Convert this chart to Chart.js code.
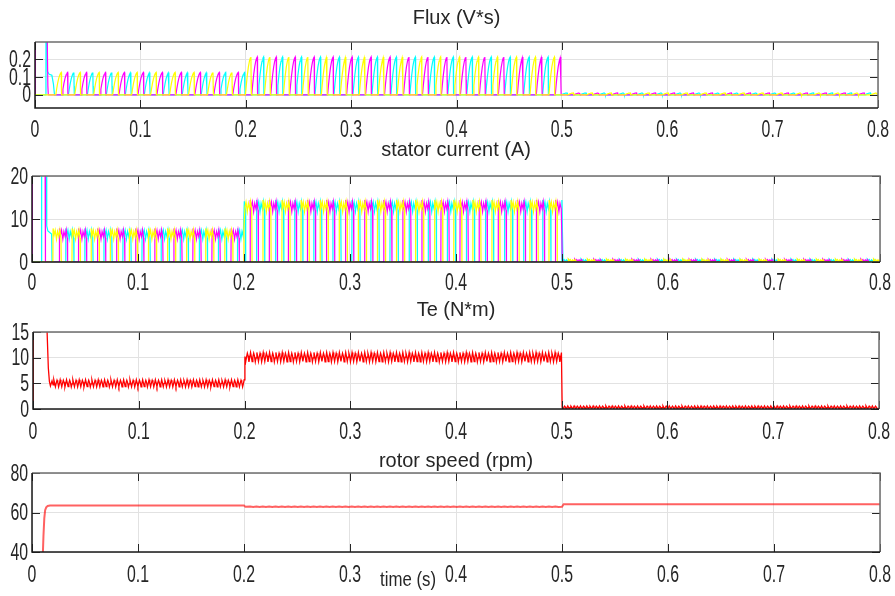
<!DOCTYPE html>
<html>
<head>
<meta charset="utf-8">
<script src="https://cdn.jsdelivr.net/npm/chart.js@4.4.1/dist/chart.umd.min.js"></script>
<style>
  html, body { margin: 0; padding: 0; background: #fff; }
  #wrap { position: relative; width: 895px; height: 596px; overflow: hidden; }
  #wrap canvas { position: absolute; left: 0; top: 0; }
</style>
</head>
<body>
<div id="wrap">
  <canvas id="fluxChart" width="895" height="596"></canvas>
  <canvas id="currentChart" width="895" height="596"></canvas>
  <canvas id="torqueChart" width="895" height="596"></canvas>
  <canvas id="speedChart" width="895" height="596"></canvas>
</div>
<script>
// time axis (s)
const xTickValues = [0, 0.1, 0.2, 0.3, 0.4, 0.5, 0.6, 0.7, 0.8];
const xTickLabels = ['0', '0.1', '0.2', '0.3', '0.4', '0.5', '0.6', '0.7', '0.8'];

// load steps at 0.2 s and 0.5 s split the run into three parts
const segmentEnds = [0.2, 0.5];

// start of each phase conduction (s)
const yellowStarts = [0.0197, 0.0377, 0.0557, 0.0737, 0.0917, 0.1097, 0.1277, 0.1457, 0.1637, 0.1817,
  0.1997, 0.2177, 0.2357, 0.2537, 0.2717, 0.2897, 0.3077, 0.3257, 0.3437, 0.3617, 0.3797, 0.3977,
  0.4157, 0.4337, 0.4517, 0.4697, 0.4877, 0.5057, 0.5237, 0.5417, 0.5597, 0.5777, 0.5957, 0.6137,
  0.6317, 0.6497, 0.6677, 0.6857, 0.7037, 0.7217, 0.7397, 0.7577, 0.7757, 0.7937];
const magentaStarts = [0.0257, 0.0437, 0.0617, 0.0797, 0.0977, 0.1157, 0.1337, 0.1517, 0.1697, 0.1877,
  0.2057, 0.2237, 0.2417, 0.2597, 0.2777, 0.2957, 0.3137, 0.3317, 0.3497, 0.3677, 0.3857, 0.4037,
  0.4217, 0.4397, 0.4577, 0.4757, 0.4937, 0.5117, 0.5297, 0.5477, 0.5657, 0.5837, 0.6017, 0.6197,
  0.6377, 0.6557, 0.6737, 0.6917, 0.7097, 0.7277, 0.7457, 0.7637, 0.7817];
const cyanStarts = [0.0317, 0.0497, 0.0677, 0.0857, 0.1037, 0.1217, 0.1397, 0.1577, 0.1757, 0.1937,
  0.2117, 0.2297, 0.2477, 0.2657, 0.2837, 0.3017, 0.3197, 0.3377, 0.3557, 0.3737, 0.3917, 0.4097,
  0.4277, 0.4457, 0.4637, 0.4817, 0.4997, 0.5177, 0.5357, 0.5537, 0.5717, 0.5897, 0.6077, 0.6257,
  0.6437, 0.6617, 0.6797, 0.6977, 0.7157, 0.7337, 0.7517, 0.7697, 0.7877];

// flux: one pulse as [s after start, fraction of peak], peak per part (V*s)
const fluxPulse = [[0, 0], [0.0008, 0.25], [0.0018, 0.52], [0.0028, 0.74], [0.0038, 0.89],
  [0.0046, 0.97], [0.0052, 1], [0.0054, 0.4], [0.0056, 0]];
const fluxPeak = [0.125, 0.212, 0.01];
const fluxStartYellow = [[0, 0]];
const fluxStartMagenta = [[0, 0], [0.0004, 0.5], [0.0112, 0.5], [0.0122, 0.05], [0.0126, 0]];
const fluxStartCyan = [[0, 0], [0.0098, 0], [0.0104, 0.5], [0.0112, 0.5], [0.0118, 0.13],
  [0.0135, 0.115], [0.016, 0.11], [0.0175, 0.06], [0.0185, 0]];

// stator current: chopped pulse as [s after start, ripple (A)], level per part (A)
const currentPulse = [[0.0002, 1.3], [0.0012, -0.2], [0.0022, 0.9], [0.0034, -1.2], [0.0044, 0.6],
  [0.0056, -0.6], [0.0066, 1.0], [0.0076, -0.9]];
const currentPulseEnd = 0.0079;
const currentLevel = [6.5, 13.0, 0.35];
const currentSwing = [1.0, 1.1, 0.25];
const currentStartYellow = [[0, 0]];
const currentStartMagenta = [[0, 0], [0.0003, 25], [0.0123, 25], [0.0127, 0]];
const currentStartCyan = [[0, 0], [0.0088, 0], [0.0091, 25], [0.0133, 25], [0.0139, 8.4],
  [0.015, 7.2], [0.017, 6.8], [0.0185, 6.5], [0.0189, 0]];

// torque: ripple over one stroke as [s after start, N*m], mean per part
const tePulse = [[0, 0.7], [0.0007, 0.1], [0.0015, -0.65], [0.0022, 0.0], [0.003, 0.6],
  [0.0037, 0.2], [0.0045, -0.7], [0.0052, -0.1]];
const teLevel = [5.0, 10.1, 0.3];
const teSwing = [1.0, 1.3, 0.45];
const teStart = [[0, 0], [0.0002, 20], [0.0125, 20], [0.0145, 8], [0.0155, 5.4], [0.0165, 4.5],
  [0.018, 5.5], [0.019, 4.7]];

// rotor speed (rpm)
const speedTime = [0.0100, 0.0108, 0.0116, 0.0124, 0.0134, 0.0148, 0.0170, 0.2000, 0.2012, 0.5000, 0.5015, 0.8000];
const speedValue = [35, 48, 57, 61.2, 62.6, 63.3, 63.5, 63.5, 62.9, 62.9, 64.2, 64.2];
const speedRipple = [[0, 0.15], [0.003, -0.15]];
const speedLoaded = 62.9;

const FONT = '"Liberation Sans", Arial, Helvetica, sans-serif';
const INK = '#262626';

function segmentAt(t) {
  return t < segmentEnds[0] ? 0 : (t < segmentEnds[1] ? 1 : 2);
}

function fluxSeries(startup, starts) {
  const pts = startup.map(([x, y]) => ({ x, y }));
  starts.forEach(t0 => {
    fluxPulse.forEach(([dt, f]) => {
      const t = t0 + dt;
      pts.push({ x: t, y: f * fluxPeak[segmentAt(t)] });
    });
  });
  return pts;
}

function currentSeries(startup, starts) {
  const pts = startup.map(([x, y]) => ({ x, y }));
  starts.forEach(t0 => {
    pts.push({ x: t0, y: 0 });
    currentPulse.forEach(([dt, off]) => {
      const t = t0 + dt;
      const s = segmentAt(t);
      pts.push({ x: t, y: currentLevel[s] + off * currentSwing[s] });
    });
    pts.push({ x: t0 + currentPulseEnd, y: 0 });
  });
  return pts;
}

const allStarts = [...yellowStarts, ...magentaStarts, ...cyanStarts].sort((a, b) => a - b);

const teData = teStart.map(([x, y]) => ({ x, y }));
allStarts.forEach(t0 => {
  tePulse.forEach(([dt, off]) => {
    const t = t0 + dt;
    const s = segmentAt(t);
    teData.push({ x: t, y: teLevel[s] + off * teSwing[s] });
  });
});

const speedData = speedTime.map((x, i) => ({ x, y: speedValue[i] }));
allStarts.filter(t => t > 0.2015 && t < 0.4965).forEach(t0 => {
  speedRipple.forEach(([dt, off]) => speedData.push({ x: t0 + dt, y: speedLoaded + off }));
});
speedData.sort((a, b) => a.x - b.x);

function squeezed(ctx, text, x, y, align, sx) {
  ctx.save();
  ctx.translate(x, y);
  ctx.scale(sx, 1);
  ctx.textAlign = align;
  ctx.textBaseline = 'middle';
  ctx.fillText(text, 0, 0);
  ctx.restore();
}

// axes box with inward ticks, plus titles and tick labels
const panelPlugin = {
  id: 'panel',
  afterDatasetsDraw(chart, args, opts) {
    const { ctx, chartArea: a } = chart;
    const xs = chart.scales.x, ys = chart.scales.y;
    ctx.save();
    ctx.lineWidth = 1;
    ctx.strokeStyle = INK;
    ctx.beginPath();
    xTickValues.forEach(v => {
      const px = Math.round(xs.getPixelForValue(v)) + 0.5;
      ctx.moveTo(px, a.bottom); ctx.lineTo(px, a.bottom - 8);
      ctx.moveTo(px, a.top); ctx.lineTo(px, a.top + 8);
    });
    opts.yTicks.forEach(v => {
      const py = Math.round(ys.getPixelForValue(v)) + 0.5;
      ctx.moveTo(a.left, py); ctx.lineTo(a.left + 8, py);
      ctx.moveTo(a.right, py); ctx.lineTo(a.right - 8, py);
    });
    ctx.stroke();
    ctx.lineWidth = 1.5;
    ctx.strokeStyle = '#6e6e6e';
    ctx.beginPath();
    ctx.moveTo(a.left, a.top); ctx.lineTo(a.right, a.top); ctx.lineTo(a.right, a.bottom);
    ctx.stroke();
    ctx.strokeStyle = '#1a1a1a';
    ctx.beginPath();
    ctx.moveTo(a.left, a.top); ctx.lineTo(a.left, a.bottom); ctx.lineTo(a.right, a.bottom);
    ctx.stroke();
    ctx.restore();
  },
  afterDraw(chart, args, opts) {
    const { ctx, chartArea: a } = chart;
    const xs = chart.scales.x, ys = chart.scales.y;
    ctx.save();
    ctx.fillStyle = INK;
    ctx.font = '21px ' + FONT;
    squeezed(ctx, opts.title, (a.left + a.right) / 2, opts.titleY, 'center', 0.95);
    ctx.font = '24px ' + FONT;
    xTickValues.forEach((v, i) => {
      squeezed(ctx, xTickLabels[i], xs.getPixelForValue(v), opts.xLabelY, 'center', 0.66);
    });
    opts.yTicks.forEach((v, i) => {
      squeezed(ctx, opts.yLabels[i], a.left - 4, ys.getPixelForValue(v) + 1, 'right', 0.66);
    });
    if (opts.xTitle) {
      ctx.font = '21px ' + FONT;
      squeezed(ctx, opts.xTitle, opts.xTitleX, opts.xTitleY, 'center', 0.8);
    }
    ctx.restore();
  }
};

function makePanel(id, area, yMin, yMax, datasets, panel) {
  return new Chart(document.getElementById(id), {
    type: 'line',
    data: { datasets },
    options: {
      responsive: false,
      animation: false,
      events: [],
      parsing: false,
      layout: { padding: { left: area.left, right: 895 - area.right, top: area.top, bottom: 596 - area.bottom } },
      elements: { point: { radius: 0 }, line: { tension: 0 } },
      plugins: { legend: { display: false }, tooltip: { enabled: false }, panel },
      scales: {
        x: {
          type: 'linear', min: 0, max: 0.8,
          afterBuildTicks: s => { s.ticks = xTickValues.map(v => ({ value: v })); },
          afterFit: s => { s.height = 0; },
          ticks: { display: false },
          grid: { color: '#e2e2e2', drawTicks: false },
          border: { display: false }
        },
        y: {
          type: 'linear', min: yMin, max: yMax,
          afterBuildTicks: s => { s.ticks = panel.yTicks.map(v => ({ value: v })); },
          afterFit: s => { s.width = 0; },
          ticks: { display: false },
          grid: { color: '#e2e2e2', drawTicks: false },
          border: { display: false }
        }
      }
    },
    plugins: [panelPlugin]
  });
}

function phase(data, color) {
  return { data, borderColor: color, borderWidth: 1.2 };
}

makePanel('fluxChart', { left: 35, right: 878, top: 42, bottom: 108 }, -0.074, 0.296, [
  phase(fluxSeries(fluxStartYellow, yellowStarts), '#ffff00'),
  phase(fluxSeries(fluxStartMagenta, magentaStarts), '#ff00ff'),
  phase(fluxSeries(fluxStartCyan, cyanStarts), '#00ffff')
], { title: 'Flux (V*s)', titleY: 18, xLabelY: 130, yTicks: [0, 0.1, 0.2], yLabels: ['0', '0.1', '0.2'] });

makePanel('currentChart', { left: 32, right: 880, top: 176, bottom: 262 }, 0, 20, [
  phase(currentSeries(currentStartYellow, yellowStarts), '#ffff00'),
  phase(currentSeries(currentStartMagenta, magentaStarts), '#ff00ff'),
  phase(currentSeries(currentStartCyan, cyanStarts), '#00ffff')
], { title: 'stator current (A)', titleY: 150, xLabelY: 283, yTicks: [0, 10, 20], yLabels: ['0', '10', '20'] });

makePanel('torqueChart', { left: 33, right: 879, top: 332, bottom: 409 }, 0, 15, [
  { data: teData, borderColor: '#ff0000', borderWidth: 1.3 }
], { title: 'Te (N*m)', titleY: 310, xLabelY: 432, yTicks: [0, 5, 10, 15], yLabels: ['0', '5', '10', '15'] });

makePanel('speedChart', { left: 32, right: 880, top: 473, bottom: 552 }, 40, 80, [
  { data: speedData, borderColor: 'rgba(255,0,0,0.62)', borderWidth: 2 }
], { title: 'rotor speed (rpm)', titleY: 461, xLabelY: 575, yTicks: [40, 60, 80], yLabels: ['40', '60', '80'],
  xTitle: 'time (s)', xTitleX: 408, xTitleY: 580 });
</script>
</body>
</html>
